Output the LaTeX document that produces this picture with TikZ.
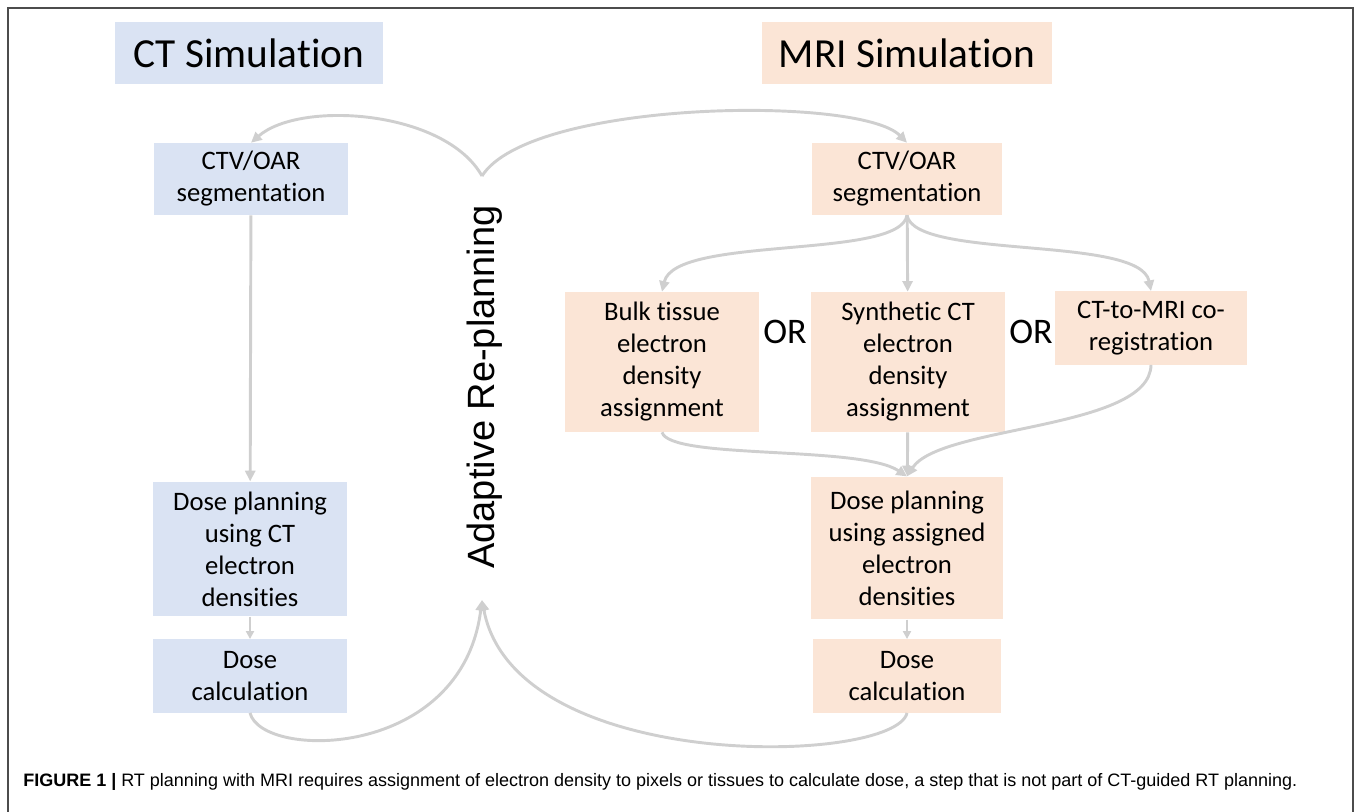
\documentclass[tikz,border=0pt]{standalone}
\usepackage{fontspec}
\setmainfont[Ligatures=NoCommon]{Carlito}
\newfontfamily\arialfont{Liberation Sans}
\newfontfamily\capfont{Liberation Sans}
\usetikzlibrary{arrows.meta}
\definecolor{ctblue}{HTML}{DAE3F3}
\definecolor{mripeach}{HTML}{FBE5D6}
\definecolor{flowgray}{HTML}{CFCFCF}

\begin{document}
\begin{tikzpicture}[x=0.75pt, y=-0.75pt,
    ctbox/.style={fill=ctblue, minimum width=145pt, align=center, inner sep=0pt, font=\fontsize{20}{24}\selectfont},
    mribox/.style={ctbox, fill=mripeach},
    title/.style={minimum height=46.5pt, font=\fontsize{31}{36}\selectfont},
    flow/.style={draw=flowgray, line width=2.2pt, -{Triangle[length=8pt,width=7.5pt]}},
    shortflow/.style={draw=flowgray, line width=1.6pt, -{Triangle[length=6pt,width=6pt]}}]
  \useasboundingbox (0,0) rectangle (1358,812);
  \draw[line width=1.1pt, black!70] (8,830) -- (8,8) -- (1353,8) -- (1353,830);

  \node[ctbox, title, minimum width=201pt] (cttitle) at (249,53) {CT Simulation};
  \node[mribox, title, minimum width=217.5pt] (mrititle) at (907,53) {MRI Simulation};

  \node[ctbox, minimum height=54pt] (ctseg) at (251,179) {CTV/OAR\\segmentation};
  \node[ctbox, minimum height=101pt] (ctplan) at (250,549) {Dose planning\\using CT\\electron\\densities};
  \node[ctbox, minimum height=55pt] (ctcalc) at (250,676) {Dose\\calculation};

  \node[mribox, minimum width=143pt, minimum height=54pt] (mriseg) at (907,179) {CTV/OAR\\segmentation};
  \node[mribox, minimum width=146pt, minimum height=105pt] (bulk) at (662,362) {Bulk tissue\\electron\\density\\assignment};
  \node[mribox, minimum width=146pt, minimum height=105pt] (synth) at (908,362) {Synthetic CT\\electron\\density\\assignment};
  \node[mribox, minimum width=144pt, minimum height=55pt] (coreg) at (1151,328) {CT-to-MRI co-\\registration};
  \node[mribox, minimum width=144pt, minimum height=107pt] (mriplan) at (907,548) {Dose planning\\using assigned\\electron\\densities};
  \node[mribox, minimum width=141pt, minimum height=55pt] (mricalc) at (907,676) {Dose\\calculation};

  \node[font=\fontsize{27}{32}\selectfont] (or1) at (785,332) {OR};
  \node[font=\fontsize{27}{32}\selectfont] (or2) at (1031,332) {OR};

  \node[rotate=90, inner sep=0pt, font=\arialfont\fontsize{28.5}{34}\selectfont] (replan) at (485,387) {Adaptive Re-planning};
  \coordinate (replan top) at (482,176);
  \coordinate (replan bot) at (482,600);

  \draw[flow] (replan top) .. controls (445,110) and (300,100) .. (ctseg.north);
  \draw[flow] (replan top) .. controls (530,100) and (860,95) .. (mriseg.north);

  \draw[flow] (ctseg) -- (ctplan);
  \draw[shortflow] (ctplan) -- (ctcalc);
  \draw[flow] (ctcalc.south) .. controls (262,760) and (462,760) .. (replan bot);

  \draw[flow] (mriseg.south) .. controls (900,260) and (675,235) .. (bulk.north);
  \draw[flow] (mriseg) -- (synth);
  \draw[flow] (mriseg.south) .. controls (915,260) and (1140,235) .. (coreg.north);

  \draw[flow] (bulk.south) .. controls (670,460) and (860,445) .. (mriplan.north);
  \draw[flow] (synth) -- (mriplan);
  \draw[flow] (coreg.south) .. controls (1150,430) and (940,425) .. (mriplan.north);
  \draw[shortflow] (mriplan) -- (mricalc);
  \draw[flow] (mricalc.south) .. controls (895,765) and (515,775) .. (replan bot);

  \node[anchor=base west, inner sep=0pt, font=\capfont\fontsize{13.5}{16}\selectfont] (caption) at (23,786) {\textbf{FIGURE 1 |} RT planning with MRI requires assignment of electron density to pixels or tissues to calculate dose, a step that is not part of CT-guided RT planning.};
\end{tikzpicture}
\end{document}
